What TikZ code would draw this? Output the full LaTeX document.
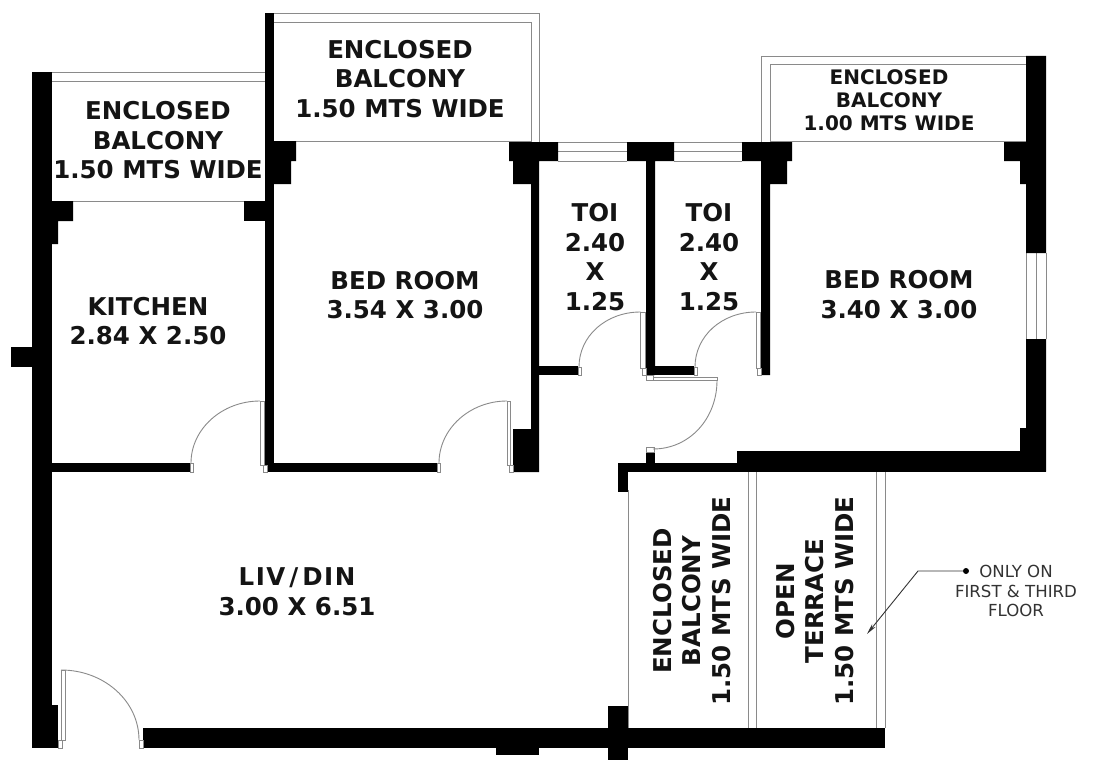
\documentclass[tikz,border=0pt]{standalone}
\usepackage{fontspec}
\setmainfont{DejaVu Sans}
\usetikzlibrary{arrows.meta}
\definecolor{linegrey}{HTML}{8A8A8A}
\definecolor{notegrey}{HTML}{333333}
\tikzset{
  wall/.style={fill=black,draw=none},
  thin line/.style={draw=linegrey,line width=0.95pt},
  leaf/.style={draw=linegrey,line width=0.7pt,fill=white},
  swing/.style={draw=linegrey,line width=0.9pt},
  room/.style={font=\bfseries\fontsize{24.5}{29.5}\selectfont,align=center,inner sep=0pt,text=black!92},
  smallroom/.style={font=\bfseries\fontsize{20}{23}\selectfont,align=center,inner sep=0pt,text=black!92},
  note/.style={font=\fontsize{16.6}{19.3}\selectfont,align=center,inner sep=0pt,text=notegrey},
  notedot/.style={circle,fill=black,inner sep=0pt,minimum size=6pt},
}
\begin{document}
\begin{tikzpicture}[x=1pt,y=-1pt]
\useasboundingbox[fill=white] (0,0) rectangle (1096,768);
% balcony and window lines
\path[thin line] (52,72) -- (265,72) (52,81) -- (265,81) (52,201) -- (265,201);
\path[thin line] (274,13) -- (539,13) -- (539,142) (274,22) -- (531,22) -- (531,142) (274,141) -- (531,141);
\path[thin line] (761,142) -- (761,56) -- (1026,56) (770,142) -- (770,64.5) -- (1026,64.5) (770,141) -- (1026,141);
\path[thin line] (558,142) -- (627,142) (558,151) -- (627,151) (558,161) -- (627,161);
\path[thin line] (674,142) -- (742,142) (674,151) -- (742,151) (674,161) -- (742,161);
\path[thin line] (1026,253) -- (1026,339) (1036,253) -- (1036,339) (1046,253) -- (1046,339);
\path[thin line] (628,490) -- (628,728) (748,472) -- (748,728) (756,472) -- (756,728) (876,472) -- (876,728) (885,472) -- (885,728);
% walls
\fill[wall] (32,72) rectangle (52,748);
\fill[wall] (11,347) rectangle (32,367);
\fill[wall] (52,201) rectangle (73,221) (52,221) rectangle (58,244);
\fill[wall] (244,201) rectangle (265,221);
\fill[wall] (52,463) rectangle (190,472);
\fill[wall] (265,13) rectangle (274,472);
\fill[wall] (274,463) rectangle (437,472);
\fill[wall] (274,141) rectangle (296,161) (274,161) rectangle (291,184);
\fill[wall] (509,142) rectangle (558,161) (513,161) rectangle (539,184);
\fill[wall] (531,184) rectangle (539,429) (513,429) rectangle (539,472);
\fill[wall] (539,366) rectangle (578,375);
\fill[wall] (627,142) rectangle (674,161) (646,161) rectangle (655,375);
\fill[wall] (655,366) rectangle (694,375);
\fill[wall] (742,142) rectangle (792,161) (761,161) rectangle (787,184) (761,184) rectangle (770,375);
\fill[wall] (1026,56) rectangle (1046,253) (1026,339) rectangle (1046,471.5);
\fill[wall] (1004,142) rectangle (1026,161) (1020,161) rectangle (1026,184);
\fill[wall] (1020,428) rectangle (1026,451);
\fill[wall] (737,451) rectangle (1046,471.5);
\fill[wall] (618,463) rectangle (737,472);
\fill[wall] (618,472) rectangle (628,492);
\fill[wall] (646,452) rectangle (655,463);
\fill[wall] (143,728) rectangle (885,748);
\fill[wall] (496,748) rectangle (539,755);
\fill[wall] (608,706) rectangle (628,760);
\fill[wall] (52,705) rectangle (58,748);
% doors
\path[leaf] (260,401) rectangle (264,465) (263,465) rectangle (267,472) (190,463) rectangle (193,472);
\path[swing] (260,401) .. controls (222,401) and (191,429) .. (191,463);
\path[leaf] (507,401) rectangle (510,465) (509,465) rectangle (513,472) (437,463) rectangle (440,472);
\path[swing] (507,401) .. controls (469.5,401) and (439,429) .. (439,463);
\path[leaf] (640.5,312) rectangle (645,368) (642,368) rectangle (646,375) (578,367) rectangle (581,375);
\path[swing] (640.5,312) .. controls (606,312) and (579,336) .. (579,367);
\path[leaf] (756,312) rectangle (760,368) (757,368) rectangle (761,375) (694,367) rectangle (697,375);
\path[swing] (756,312) .. controls (722,312) and (695,336) .. (695,367);
\path[leaf] (646,375) rectangle (653,380) (653,377) rectangle (717,380.5) (646,447) rectangle (654,452);
\path[swing] (717,380.5) .. controls (717,418) and (690,449) .. (653,449);
\path[leaf] (61,670) rectangle (65,740) (58.5,740) rectangle (62,748) (139,740) rectangle (143,748);
\path[swing] (61,670) .. controls (104,670) and (139,701) .. (139,740);
% texts
\node[room] (balconyA) at (158,140.5) {ENCLOSED\\BALCONY\\1.50 MTS WIDE};
\node[room] (balconyB) at (400,79) {ENCLOSED\\BALCONY\\1.50 MTS WIDE};
\node[smallroom] (balconyC) at (889,100) {ENCLOSED\\BALCONY\\1.00 MTS WIDE};
\node[room] (kitchen) at (148,321) {KITCHEN\\2.84 X 2.50};
\node[room] (bedA) at (405,295) {BED ROOM\\3.54 X 3.00};
\node[room] (toiA) at (595,257) {TOI\\2.40\\X\\1.25};
\node[room] (toiB) at (709,257) {TOI\\2.40\\X\\1.25};
\node[room] (bedB) at (899,294.5) {BED ROOM\\3.40 X 3.00};
\node[room] (living) at (297,591.5) {L\kern1.5ptI\kern1.5ptV\kern4pt/\kern4ptD\kern1.5ptI\kern1.5ptN\\3.00 X 6.51};
\node[room,rotate=90] (balconyD) at (692,601) {ENCLOSED\\BALCONY\\1.50 MTS WIDE};
\node[room,rotate=90] (terrace) at (815,601) {OPEN\\TERRACE\\1.50 MTS WIDE};
\node[note] (note) at (1016,591) {ONLY ON\\FIRST \& THIRD\\FLOOR};
% callout
\node[notedot] (dot) at (966,571) {};
\coordinate (bend) at (918,571);
\coordinate (tip) at (867,634);
\draw[draw=notegrey,line width=0.9pt,-{Stealth[length=11pt,width=4.5pt]}] (dot) -- (bend) -- (tip);
\end{tikzpicture}
\end{document}
